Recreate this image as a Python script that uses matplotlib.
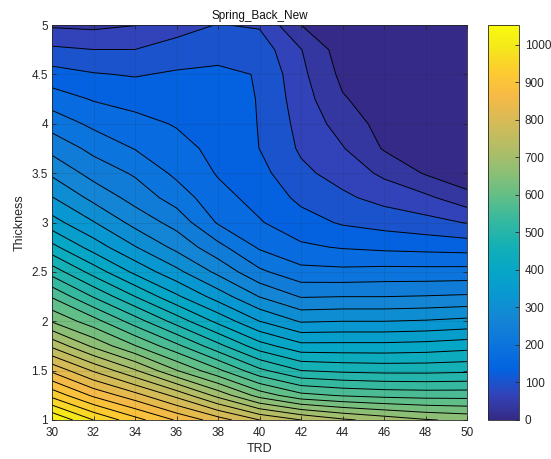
import numpy as np
import matplotlib
matplotlib.use("Agg")
import matplotlib.pyplot as plt
from matplotlib.colors import LinearSegmentedColormap, Normalize
from matplotlib.cm import ScalarMappable

# ---- data ----
trd = [30, 32, 34, 36, 38, 40, 42, 44, 46, 48, 50]
thickness = [1.0, 1.25, 1.5, 1.75, 2.0, 2.25, 2.5, 2.75, 3.0,
             3.25, 3.5, 3.75, 4.0, 4.25, 4.5, 4.75, 5.0]

# rows: thickness ascending, columns: TRD ascending
z_t100 = [1053, 987, 934, 885, 839, 790, 757, 730, 711, 694, 684]
z_t125 = [944, 882, 835, 780, 713, 645, 602, 589, 582, 579, 579]
z_t150 = [849, 786, 728, 660, 600, 535, 494, 487, 484, 484, 487]
z_t175 = [750, 684, 627, 568, 504, 442, 405, 405, 405, 408, 415]
z_t200 = [655, 606, 543, 480, 419, 362, 326, 329, 329, 332, 338]
z_t225 = [589, 524, 461, 401, 347, 295, 261, 263, 263, 265, 268]
z_t250 = [513, 447, 387, 338, 288, 237, 208, 206, 209, 209, 210]
z_t275 = [438, 380, 331, 287, 241, 193, 170, 162, 157, 154, 151]
z_t300 = [375, 331, 285, 251, 194, 167, 145, 128, 119, 110, 97]
z_t325 = [331, 287, 251, 216, 175, 154, 124, 105, 88, 73, 46]
z_t350 = [290, 251, 226, 190, 162, 142, 106, 86, 59, 30, 7]
z_t375 = [253, 221, 196, 176, 155, 131.3, 94, 68, 30, 18, 4]
z_t400 = [217, 190, 175, 162, 149, 130.5, 88, 52, 21, 12, 3]
z_t425 = [181, 162, 153, 149, 142, 130.5, 81, 36, 15, 8, 2]
z_t450 = [145, 134, 129, 136, 136, 130.5, 74, 25, 10, 5, 1]
z_t475 = [105, 99, 99, 111, 124, 117, 67, 16, 7, 3, 0]
z_t500 = [61, 58, 65, 86, 100, 95, 33, 10, 3, 2, 0]

x_ticks = [30, 32, 34, 36, 38, 40, 42, 44, 46, 48, 50]
y_ticks = [1, 1.5, 2, 2.5, 3, 3.5, 4, 4.5, 5]
y_tick_labels = ["1", "1.5", "2", "2.5", "3", "3.5", "4", "4.5", "5"]
cbar_ticks = [0, 100, 200, 300, 400, 500, 600, 700, 800, 900, 1000]

# ---- style ----
plt.rcParams['font.family'] = ['Liberation Sans', 'DejaVu Sans']
txt = '#262626'

parula_anchors = [
    [0.2081, 0.1663, 0.5292], [0.1959, 0.2645, 0.7279], [0.0117, 0.3875, 0.8820],
    [0.0498, 0.4586, 0.8641], [0.0793, 0.5200, 0.8312], [0.0343, 0.5966, 0.8199],
    [0.0228, 0.6535, 0.7768], [0.0843, 0.6928, 0.7062], [0.2178, 0.7250, 0.6193],
    [0.3953, 0.7459, 0.5244], [0.5709, 0.7485, 0.4494], [0.7184, 0.7411, 0.3905],
    [0.8507, 0.7299, 0.3360], [0.9739, 0.7314, 0.2666], [0.9880, 0.8066, 0.1794],
    [0.9599, 0.9218, 0.0948], [0.9763, 0.9831, 0.0538]]
anchor_pos = [0, 4, 8, 12, 16, 20, 24, 28, 32, 36, 40, 44, 48, 52, 56, 60, 63]
parula = LinearSegmentedColormap.from_list(
    'parula', [(p / 63.0, c) for p, c in zip(anchor_pos, parula_anchors)], N=256)

Z = np.array([z_t100, z_t125, z_t150, z_t175, z_t200, z_t225, z_t250, z_t275,
              z_t300, z_t325, z_t350, z_t375, z_t400, z_t425, z_t450, z_t475,
              z_t500], dtype=float)
X, Y = np.meshgrid(trd, thickness)

zmin, zmax = Z.min(), Z.max()
levels = np.linspace(zmin, zmax, 33)
norm = Normalize(vmin=zmin, vmax=zmax)
band_colors = [parula(norm(l)) for l in levels[:-1]]

fig = plt.figure(figsize=(5.51, 4.59), dpi=100)
ax = fig.add_axes([52 / 551, 39 / 459, 415 / 551, 395 / 459])

ax.contourf(X, Y, Z, levels=levels, colors=band_colors)
ax.contour(X, Y, Z, levels=levels[1:-1], colors='k', linewidths=0.7)

ax.set_xlim(30, 50)
ax.set_ylim(1, 5)
ax.set_xticks(x_ticks)
ax.set_xticklabels([str(v) for v in x_ticks])
ax.set_yticks(y_ticks)
ax.set_yticklabels(y_tick_labels)
ax.grid(True, color=txt, alpha=0.13, linewidth=0.6)
ax.set_axisbelow(False)
ax.tick_params(direction='in', top=True, right=True, length=3, width=0.6,
               colors=txt, labelsize=8.5)
ax.tick_params(axis='x', pad=5)
ax.tick_params(axis='y', pad=3)
for s in ax.spines.values():
    s.set_color(txt)
    s.set_linewidth(0.6)

ax.set_title('Spring_Back_New', fontsize=8.5, color='#111111', pad=4)
ax.set_xlabel('TRD', fontsize=9, color=txt, labelpad=3)
ax.set_ylabel('Thickness', fontsize=9, color=txt, labelpad=4)

cax = fig.add_axes([488 / 551, 39 / 459, 31 / 551, 395 / 459])
cb = fig.colorbar(ScalarMappable(norm=norm, cmap=parula), cax=cax)
cb.set_ticks(cbar_ticks)
cb.set_ticklabels([str(v) for v in cbar_ticks])
cax.tick_params(direction='in', length=3, width=0.6, colors=txt, labelsize=8.5, pad=4)
cb.outline.set_edgecolor(txt)
cb.outline.set_linewidth(0.6)

fig.savefig('out.png', dpi=100)
